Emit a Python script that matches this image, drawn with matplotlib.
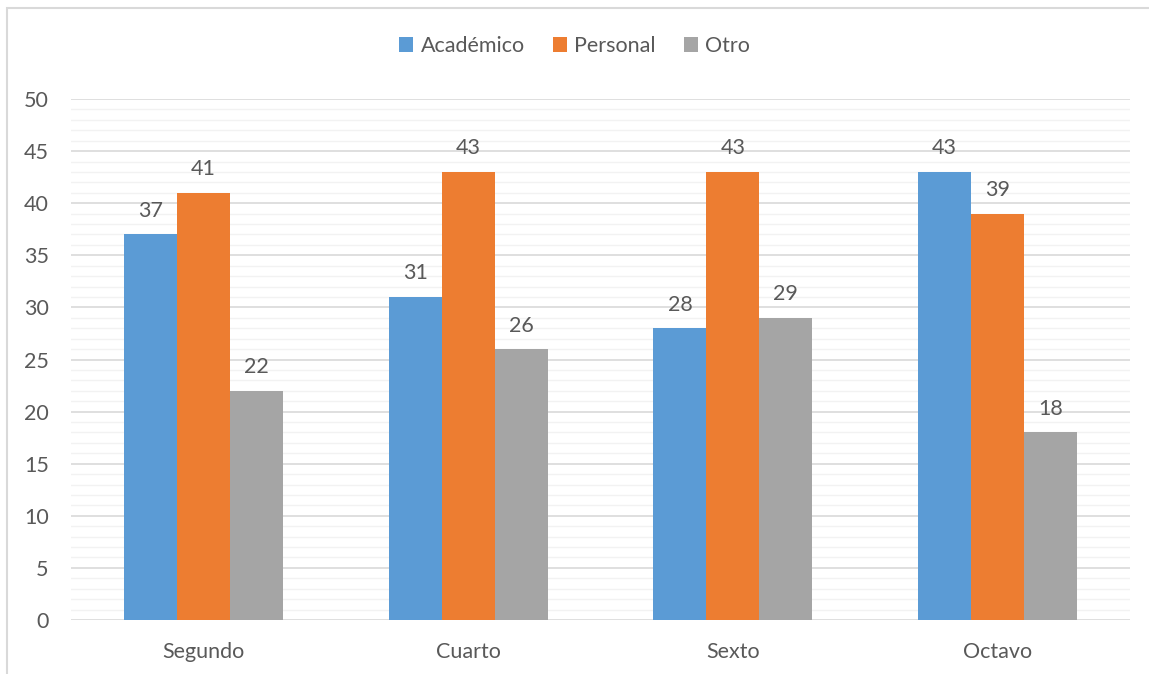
import matplotlib.pyplot as plt
import numpy as np
from matplotlib.patches import Rectangle

plt.rcParams['font.family'] = ['Lato', 'DejaVu Sans']

categories = ['Segundo', 'Cuarto', 'Sexto', 'Octavo']
series_names = ['Académico', 'Personal', 'Otro']
academico = [37, 31, 28, 43]
personal = [41, 43, 43, 39]
otro = [22, 26, 29, 18]

colors = ['#5B9BD5', '#ED7D31', '#A5A5A5']
txt = '#595959'
fs = 15.5

fig = plt.figure(figsize=(11.49, 6.74), dpi=100)
ax = fig.add_axes([71/1149, 1-620/674, (1130-71)/1149, (620-99)/674])

# chart border (partly cut off at right/bottom)
fig.patches.append(Rectangle((7/1149, -0.05), 1.1, 1 - 8/674 + 0.05, transform=fig.transFigure,
                             fill=False, edgecolor='#D9D9D9', lw=1.5))

x = np.arange(len(categories))
w = 0.2
for i, (vals, name) in enumerate(zip([academico, personal, otro], series_names)):
    bars = ax.bar(x + (i - 1) * w, vals, w, color=colors[i], label=name, zorder=3)
    for b, v in zip(bars, vals):
        ax.text(b.get_x() + b.get_width() / 2, v + 1.3, str(v), ha='center', va='bottom',
                fontsize=fs, color=txt)

ax.set_xlim(-0.5, 3.5)
ax.set_ylim(0, 50)
ax.set_yticks(range(0, 51, 5))
ax.set_yticks(range(0, 51, 1), minor=True)
ax.grid(axis='y', which='major', color='#D9D9D9', lw=1.2, zorder=0)
ax.grid(axis='y', which='minor', color='#F2F2F2', lw=1.0, zorder=0)
ax.set_xticks(x)
ax.set_xticklabels(categories)
ax.tick_params(axis='both', which='both', length=0, labelsize=fs, labelcolor=txt)
ax.tick_params(axis='y', pad=16)
ax.tick_params(axis='x', pad=16)
for s in ax.spines.values():
    s.set_visible(False)

leg = fig.legend(loc='center', bbox_to_anchor=(0.5, 1 - 46/674), ncol=3, frameon=False,
                 fontsize=fs, handlelength=0.65, handleheight=0.65, handletextpad=0.35,
                 columnspacing=1.3)
for t in leg.get_texts():
    t.set_color(txt)

fig.savefig('out.png', dpi=100)
